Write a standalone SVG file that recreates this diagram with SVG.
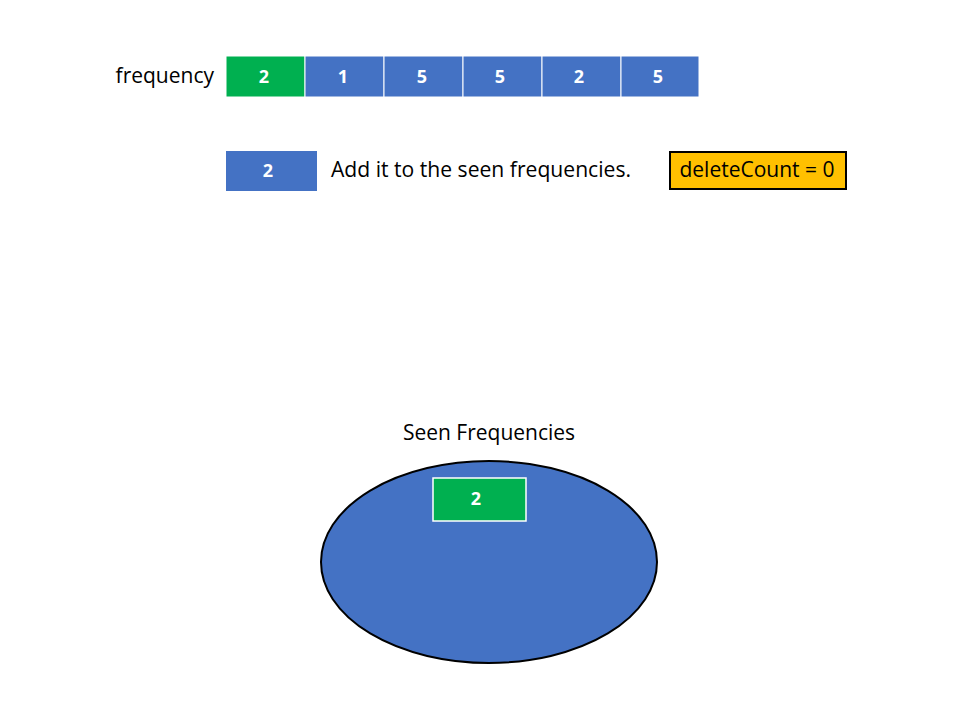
<svg xmlns="http://www.w3.org/2000/svg" width="960" height="720" viewBox="0 0 960 720">
<style>
.cell{stroke:#fff;stroke-width:1}
.blue{fill:#4472C4}
.green{fill:#00B050}
.num{font-family:"Open Sans","Liberation Sans",sans-serif;font-weight:bold;font-size:18px;fill:#fff;text-anchor:middle}
.lbl{font-family:"Open Sans","Liberation Sans",sans-serif;font-size:21px;fill:#000}
</style>
<rect width="960" height="720" fill="#fff"/>
<g id="label-frequency"><text class="lbl" x="214" y="83" text-anchor="end">frequency</text></g>
<g id="array">
<g id="c0"><rect class="cell green" x="226" y="56" width="79" height="41"/><text class="num" x="264" y="83">2</text></g>
<g id="c1"><rect class="cell blue" x="305" y="56" width="79" height="41"/><text class="num" x="343" y="83">1</text></g>
<g id="c2"><rect class="cell blue" x="384" y="56" width="79" height="41"/><text class="num" x="422" y="83">5</text></g>
<g id="c3"><rect class="cell blue" x="463" y="56" width="79" height="41"/><text class="num" x="500" y="83">5</text></g>
<g id="c4"><rect class="cell blue" x="542" y="56" width="79" height="41"/><text class="num" x="579" y="83">2</text></g>
<g id="c5"><rect class="cell blue" x="621" y="56" width="78" height="41"/><text class="num" x="658" y="83">5</text></g>
</g>
<g id="current"><rect class="blue" x="226" y="151" width="91" height="40"/><text class="num" x="268" y="177">2</text></g>
<g id="message"><text class="lbl" x="331" y="177" textLength="300" lengthAdjust="spacingAndGlyphs">Add it to the seen frequencies.</text></g>
<g id="deleteCount"><rect x="670" y="152" width="176" height="37" fill="#FFC000" stroke="#000" stroke-width="2"/><text class="lbl" x="757" y="177" text-anchor="middle">deleteCount = 0</text></g>
<g id="seen-title"><text class="lbl" x="489" y="440" text-anchor="middle">Seen Frequencies</text></g>
<g id="seen-set"><ellipse cx="489" cy="562" rx="168" ry="101" fill="#4472C4" stroke="#000" stroke-width="2"/></g>
<g id="seen-2"><rect x="433" y="478" width="93" height="43" fill="#00B050" stroke="#fff" stroke-width="1.5"/><text class="num" x="476" y="505">2</text></g>
<g id="connectors"></g>
</svg>
